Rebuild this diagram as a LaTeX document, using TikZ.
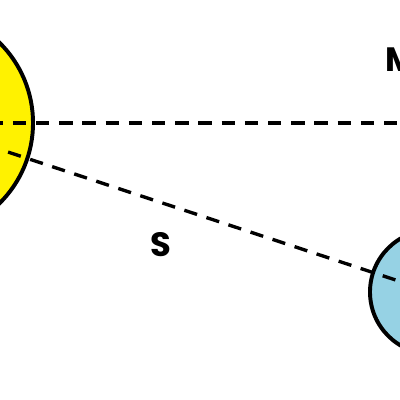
\documentclass[tikz,border=0pt]{standalone}
\usepackage{fontspec}
\newfontfamily\labfont{Poppins}
\usetikzlibrary{positioning,calc}
\definecolor{sunyellow}{RGB}{255,242,0}
\definecolor{planetblue}{RGB}{150,210,228}
\tikzset{
  body/.style={circle, draw=black, line width=2.8pt, inner sep=0pt},
  sightline/.style={line width=2.4pt, dash pattern=on 9.5pt off 7pt},
  lab/.style={font=\labfont\bfseries\fontsize{24}{24}\selectfont, inner sep=0pt}
}

\begin{document}
\begin{tikzpicture}[x=0.025cm, y=-0.025cm]
  \useasboundingbox (0,0) rectangle (400,400);
  \clip (0,0) rectangle (400,400);
  % the two bodies
  \node[body, fill=sunyellow, minimum size=5.65cm] (sun) at (-80,123) {};
  \node[body, fill=planetblue, minimum size=3.1cm] (planet) at (432,292) {};
  \coordinate (farM) at (410,123);
  % lines of sight
  \draw[sightline] (sun.center) -- (farM);
  \draw[sightline] (sun.center) -- ($(sun.center)!1.03!(planet.center)$);
  % labels
  \node[lab, anchor=north west] (lblM) at (385,48) {M};
  \node[lab, anchor=north west] (lblS) at (150,232) {S};
\end{tikzpicture}
\end{document}
